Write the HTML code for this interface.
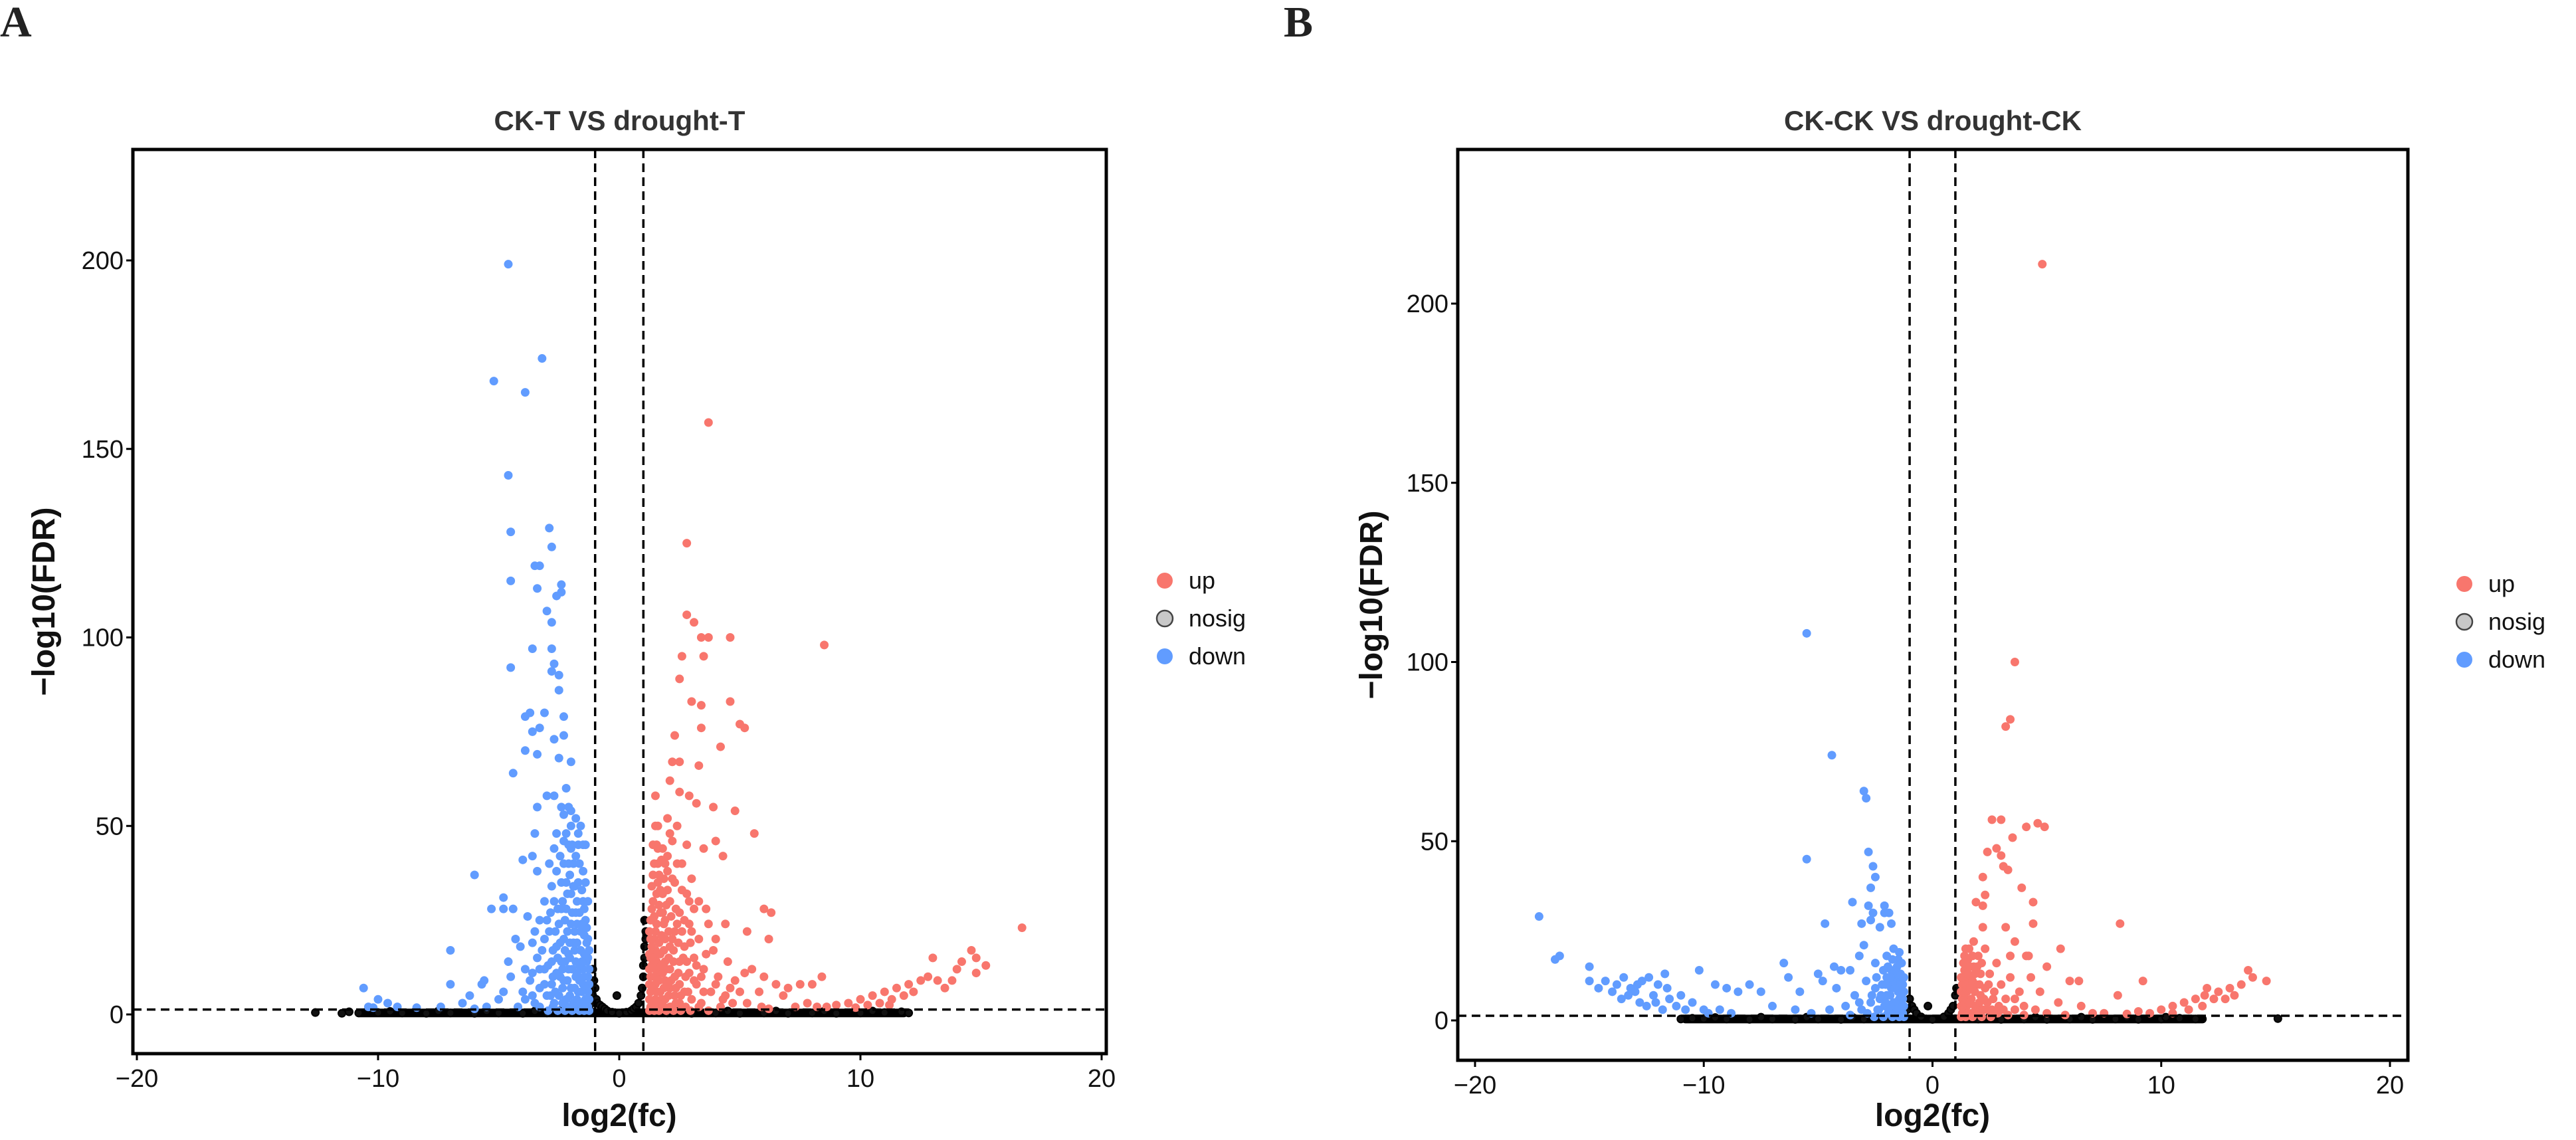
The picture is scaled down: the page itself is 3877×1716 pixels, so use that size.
<!DOCTYPE html>
<html><head><meta charset="utf-8">
<style>
html,body{margin:0;padding:0;background:#fff;}
svg{display:block;font-family:"Liberation Sans",Arial,sans-serif;}
</style></head>
<body>
<svg id="chart" width="3877" height="1716" viewBox="0 0 3877 1716" xmlns="http://www.w3.org/2000/svg">
<text x="0" y="55" font-family="Liberation Serif,serif" font-weight="bold" font-size="66" fill="#222">A</text>
<text x="1932" y="55" font-family="Liberation Serif,serif" font-weight="bold" font-size="66" fill="#222">B</text>
</svg>
<script>
const xTicks=[-20,-10,0,10,20];
const yTicks=[0,50,100,150,200];
const fdrThreshold=1.3;
const fcThreshold=1;

const aUp=[[3.7,157],[2.8,125],[2.8,106],[3.1,104],[3.4,100],[3.7,100],[4.6,100],[8.5,98],[2.6,95],[3.5,95],[2.5,89],[3.0,83],[4.6,83],[3.4,82],[5.0,77],[5.2,76],[3.4,76],[2.3,74],[4.2,71],[2.2,67],[2.5,67],[3.3,66],[2.1,62],[2.5,59],[2.9,58],[1.5,58],[3.2,56],[3.9,55],[4.8,54],[2.0,52],[5.6,48],[4.3,42],[3.5,44],[4.0,46],[6.0,28],[6.3,27],[5.3,22],[6.2,20],[4.4,24],[16.7,23],[14.6,17],[14.8,15],[13,15],[14.2,14],[14,12],[14.8,11],[15.2,13],[12.5,9],[13.2,9],[12.8,10],[12,8],[11.5,7],[11.8,5],[11,6],[11.3,4],[10.5,5],[10,4],[10.8,3],[9.5,3],[9,2.5],[8.6,2],[8.4,10],[8.0,8],[7.5,8],[7.0,7],[6.5,8],[6.0,10],[5.5,12],[5.2,11],[4.8,9],[5.8,6],[6.8,5],[7.8,3],
[1.3,2],[1.3,6],[1.3,10],[1.3,15],[1.3,20],[1.4,25],[1.4,30],[1.5,4],[1.5,8],[1.5,12],[1.5,17],[1.5,22],[1.6,35],[1.6,40],[1.7,2],[1.7,6],[1.7,11],[1.7,16],[1.7,27],[1.8,44],[1.8,32],[1.9,4],[1.9,9],[1.9,14],[1.9,20],[1.9,25],[2.0,38],[2.1,2],[2.1,7],[2.1,12],[2.1,18],[2.1,30],[2.2,46],[2.3,5],[2.3,10],[2.3,22],[2.3,35],[2.5,3],[2.5,8],[2.5,14],[2.5,27],[2.6,40],[2.7,6],[2.7,18],[2.8,32],[2.9,11],[2.9,24],[3.0,4],[3.1,15],[3.2,8],[3.3,20],[3.4,3],[3.5,12],[3.6,28],[3.8,6],[3.9,17],[4.1,10],[4.3,4],[4.5,14],[4.7,3],[5.0,6],[1.4,45],[1.6,50],[2.0,42],[2.4,50],[2.8,45],[3.0,36],[3.3,30],[3.7,24],[4.0,20],
[1.25,1],[1.25,4],[1.25,8],[1.25,12],[1.25,16],[1.25,22],[1.35,3],[1.35,7],[1.35,13],[1.35,18],[1.35,28],[1.35,34],[1.45,1],[1.45,10],[1.45,15],[1.45,20],[1.45,26],[1.45,40],[1.55,3],[1.55,6],[1.55,14],[1.55,24],[1.55,32],[1.55,45],[1.65,1],[1.65,9],[1.65,19],[1.65,29],[1.65,37],[1.75,4],[1.75,13],[1.75,21],[1.75,41],[1.85,2],[1.85,7],[1.85,17],[1.85,24],[1.85,36],[1.95,1],[1.95,12],[1.95,29],[2.05,5],[2.05,15],[2.05,22],[2.15,2],[2.15,9],[2.15,26],[2.25,1],[2.25,14],[2.25,17],[2.35,3],[2.35,7],[2.35,28],[2.45,11],[2.45,19],[2.55,1],[2.55,5],[2.65,15],[2.75,2],[2.75,10],[2.85,6],[2.95,1],[2.95,19],[3.1,9],[3.3,2],[3.5,6],[3.7,1],[4.2,2],[4.6,7],[5.3,3],[5.9,2],[6.2,1.5],[7.3,2],[8.2,2],
[1.3,25],[1.4,37],[1.5,50],[1.6,44],[1.7,33],[1.8,27],[1.9,40],[2.0,33],[2.1,48],[2.2,36],[2.4,40],[2.6,33],[2.7,25],[2.9,30],[3.1,28],[1.6,3],[1.8,11],[2.0,8],[2.2,20],[2.4,24],[2.6,22],[2.8,14],[3.0,22],[3.2,13],[3.4,10],[3.6,16],[4.0,8],[4.4,5],[9.8,1.8],[10.3,2.5],[11.2,2.5],[12.2,6],[13.5,7],[13.8,9]];
const aDown=[[-4.6,199],[-3.2,174],[-5.2,168],[-3.9,165],[-4.6,143],[-2.9,129],[-4.5,128],[-2.8,124],[-3.5,119],[-3.3,119],[-4.5,115],[-3.4,113],[-2.4,114],[-2.4,112],[-2.6,111],[-3.0,107],[-2.8,104],[-3.6,97],[-2.8,97],[-2.7,93],[-4.5,92],[-2.8,91],[-2.5,90],[-2.5,86],[-3.7,80],[-3.1,80],[-2.3,79],[-3.9,79],[-3.6,75],[-3.3,76],[-2.3,74],[-2.7,73],[-3.9,70],[-3.4,69],[-4.4,64],[-2.5,68],[-2.0,67],[-2.2,60],[-2.7,58],[-3.0,58],[-2.4,55],[-3.4,55],[-2.0,54],[-1.8,52],[-3.5,48],[-2.6,48],[-2.1,45],[-1.7,45],[-4.0,41],[-3.6,42],[-3.4,38],[-2.3,40],[-6.0,37],[-4.8,31],[-5.3,28],[-4.8,28],[-4.4,28],[-3.8,26],[-3.0,25],[-7.0,17],[-4.3,20],[-3.6,19],[-4.1,18],[-7.0,8],[-5.7,8],[-6.2,5],[-10.6,7],[-10,4],[-9.6,3],[-10.4,2],[-4.5,10],[-3.7,9],[-4.8,6],[-5.5,2],[-6,1.5],[-3.9,4],[-3.3,12],
[-1.3,2],[-1.3,6],[-1.3,10],[-1.3,15],[-1.3,20],[-1.4,4],[-1.4,25],[-1.5,8],[-1.5,12],[-1.5,30],[-1.6,2],[-1.6,17],[-1.6,22],[-1.7,6],[-1.7,35],[-1.8,10],[-1.8,14],[-1.8,27],[-1.9,3],[-1.9,19],[-1.9,40],[-2.0,7],[-2.0,24],[-2.0,32],[-2.1,12],[-2.1,16],[-2.2,4],[-2.2,28],[-2.2,48],[-2.3,9],[-2.3,20],[-2.4,14],[-2.4,35],[-2.5,5],[-2.5,24],[-2.6,11],[-2.6,18],[-2.7,3],[-2.7,30],[-2.8,8],[-2.8,14],[-2.9,22],[-3.0,5],[-3.1,12],[-3.2,17],[-3.3,7],[-3.5,3],[-3.6,11],[-4.0,6],[-1.4,45],[-1.6,50],[-2.0,44],[-1.5,38],
[-1.25,1],[-1.25,4],[-1.25,8],[-1.25,12],[-1.25,17],[-1.35,3],[-1.35,7],[-1.35,14],[-1.35,19],[-1.35,23],[-1.45,1],[-1.45,10],[-1.45,16],[-1.45,21],[-1.45,28],[-1.55,3],[-1.55,6],[-1.55,14],[-1.55,24],[-1.55,33],[-1.65,1],[-1.65,9],[-1.65,13],[-1.65,27],[-1.65,40],[-1.75,4],[-1.75,11],[-1.75,19],[-1.75,24],[-1.75,30],[-1.85,2],[-1.85,7],[-1.85,17],[-1.85,22],[-1.85,34],[-1.95,1],[-1.95,12],[-1.95,27],[-1.95,45],[-2.05,5],[-2.05,15],[-2.05,19],[-2.05,37],[-2.15,2],[-2.15,9],[-2.15,22],[-2.15,32],[-2.25,1],[-2.25,14],[-2.25,17],[-2.25,25],[-2.35,3],[-2.35,7],[-2.35,12],[-2.35,30],[-2.45,10],[-2.45,19],[-2.45,42],[-2.55,1],[-2.55,15],[-2.55,28],[-2.65,6],[-2.65,22],[-2.75,2],[-2.75,10],[-2.75,17],[-2.85,5],[-2.85,27],[-2.95,1],[-2.95,13],[-3.1,8],[-3.1,20],[-3.3,2],[-3.4,15],[-3.6,5],[-3.9,12],[-4.2,2],[-4.6,14],[-5.0,4],[-5.6,9],[-6.5,3],[-7.4,2],[-8.4,1.8],[-9.2,2],[-10.2,1.8],
[-1.3,30],[-1.4,35],[-1.5,45],[-1.7,48],[-1.8,42],[-1.9,34],[-2.0,50],[-2.1,40],[-2.2,35],[-2.3,46],[-2.4,28],[-2.6,38],[-2.7,44],[-2.8,34],[-2.9,40],[-3.1,30],[-3.3,25],[-3.5,22],[-2.3,53],[-2.1,55]];
const aNosig=[[-12.6,0.5],[-11.2,0.7],[-10.8,0.4],[-10,0.5],[-9,0.4],[-8,0.3],[-7,0.4],[-6,0.3],[-5,0.4],[-4,0.3],[-3,0.4],[-2,0.5],[-1.5,0.6],[-1.2,1],[-1.15,3],[-1.1,5],[-1.05,9],[-1.1,12],[-1.0,7],[-0.95,4],[-0.9,3],[-0.8,2.5],[-0.7,2],[-0.6,1.5],[-0.5,1],[-0.3,0.6],[0,0.3],[0.3,0.6],[0.5,1],[0.6,1.5],[0.7,2],[0.8,3],[0.9,5],[0.95,7],[1.0,10],[1.0,13],[1.05,15],[1.05,18],[1.1,20],[1.05,25],[1.1,22],[1.5,0.5],[2,0.4],[3,0.3],[4,0.4],[5,0.3],[6,0.4],[7,0.3],[8,0.4],[9,0.3],[10,0.4],[11,0.5],[11.7,0.7],[12,0.4],[-0.1,5],[-11.5,0.3],[-9.5,0.8],[-7.5,0.9],[-5.5,0.9],[-3.5,0.9],[-2.5,1.0],[2.5,1.0],[4.5,0.9],[6.5,0.9],[8.5,0.9],[10.5,0.9]];

const bUp=[[4.8,211],[3.6,100],[3.4,84],[3.2,82],[2.6,56],[3.0,56],[4.6,55],[4.9,54],[4.1,54],[3.5,51],[2.8,48],[2.4,47],[3.0,46],[3.1,43],[3.3,42],[2.2,40],[3.9,37],[2.3,35],[1.9,33],[2.2,32],[4.4,33],[8.2,27],[3.2,26],[4.4,27],[2.2,26],[5.6,20],[3.6,22],[4.1,18],[4.2,18],[3.4,18],[5.0,15],[6.0,11],[6.4,11],[8.1,7],[9.2,11],[13.8,14],[14,12],[14.6,11],[13.5,10],[13,9],[12.5,8],[12,9],[12.3,6],[11.5,6],[11.8,4],[11,5],[10.5,4],[10,3],[9.5,2],[6.5,4],[7,2],[5.5,5],[4.7,8],
[1.3,2],[1.3,6],[1.3,10],[1.4,14],[1.4,18],[1.5,4],[1.5,8],[1.6,12],[1.6,20],[1.7,2],[1.7,6],[1.8,15],[1.8,22],[1.9,4],[1.9,10],[2.0,18],[2.1,7],[2.1,13],[2.2,3],[2.3,9],[2.3,20],[2.4,5],[2.5,13],[2.6,3],[2.7,8],[2.8,16],[2.9,4],[3.0,10],[3.2,6],[3.4,12],[3.6,3],[3.8,8],[4.0,4],[4.3,12],
[1.25,1],[1.25,4],[1.25,8],[1.25,12],[1.35,3],[1.35,7],[1.35,11],[1.35,16],[1.45,1],[1.45,6],[1.45,10],[1.45,20],[1.55,2],[1.55,13],[1.55,17],[1.65,5],[1.65,9],[1.65,15],[1.75,1],[1.75,11],[1.75,18],[1.85,4],[1.85,8],[1.85,13],[1.95,2],[1.95,15],[2.05,5],[2.05,10],[2.15,1],[2.15,16],[2.25,6],[2.35,3],[2.45,10],[2.55,1],[2.65,6],[2.85,2],[3.1,3],[3.3,1.5],[3.6,6],[4.0,1.5],[4.5,3],[5.0,2],[5.8,1.5],[7.5,2],[8.5,1.8],[9.0,2.5],[10.5,2],[11.2,3],[12.8,6],[13.2,7],[11.9,7]];
const bDown=[[-5.5,108],[-4.4,74],[-3.0,64],[-2.9,62],[-5.5,45],[-2.8,47],[-2.6,43],[-2.5,40],[-2.7,37],[-3.5,33],[-2.1,32],[-2.8,32],[-2.6,30],[-2.1,30],[-1.9,30],[-4.7,27],[-3.1,27],[-2.7,28],[-2.3,26],[-1.8,27],[-17.2,29],[-16.3,18],[-16.5,17],[-15,15],[-15,11],[-14.3,11],[-13.8,10],[-13.5,12],[-13.2,9],[-13,8],[-12.7,11],[-12.4,12],[-12.2,7],[-12,10],[-11.7,13],[-11.5,6],[-11.2,4],[-11,7],[-10.5,5],[-10.2,14],[-10,3],[-9.5,10],[-9,9],[-8.5,8],[-8,10],[-7.5,8],[-6.5,16],[-6.3,12],[-5.8,8],[-5,13],[-4.8,11],[-4.3,15],[-4,14],[-3.6,14],[-3.2,18],[-3,21],[-2.5,16],[-2,18],[-14,8],[-13.6,6],[-12.8,5],[-12.5,4],[-11.8,3],[-9.8,2],[-8.8,2],[-7,4],[-6,3],[-5.3,2],
[-1.3,2],[-1.3,6],[-1.3,10],[-1.4,4],[-1.4,13],[-1.5,8],[-1.5,17],[-1.6,2],[-1.6,11],[-1.7,5],[-1.7,20],[-1.8,9],[-1.8,14],[-1.9,3],[-2.0,7],[-2.0,12],[-2.1,4],[-2.2,10],[-2.3,6],[-2.4,3],[-2.5,9],[-2.7,5],[-2.9,11],[-3.1,3],[-3.4,7],[-3.8,4],[-4.2,9],
[-1.25,1],[-1.25,4],[-1.25,8],[-1.25,12],[-1.35,3],[-1.35,7],[-1.35,11],[-1.35,16],[-1.45,1],[-1.45,6],[-1.45,10],[-1.45,19],[-1.55,3],[-1.55,13],[-1.55,15],[-1.65,5],[-1.65,9],[-1.65,14],[-1.75,1],[-1.75,11],[-1.75,17],[-1.85,4],[-1.85,7],[-1.85,12],[-1.95,2],[-1.95,15],[-2.05,5],[-2.05,10],[-2.15,1],[-2.15,14],[-2.25,7],[-2.35,3],[-2.45,12],[-2.55,1],[-2.65,7],[-2.85,2],[-3.2,5],[-3.6,1.5],[-4.5,3],[-13.3,7],[-12.9,10],[-12.1,5],[-11.6,9],[-14.6,9],[-10.8,3],[-9.3,3]];
const bNosig=[[-11,0.4],[-10.5,0.6],[-10,0.5],[-9,0.4],[-8,0.3],[-7,0.4],[-6,0.3],[-5,0.4],[-4,0.3],[-3,0.4],[-2,0.5],[-1.5,0.6],[-1.2,1],[-1.1,3],[-1.0,6],[-0.9,4],[-0.8,3],[-0.7,2],[-0.5,1],[0,0.3],[-0.2,4],[0.5,1],[0.7,2],[0.8,3],[0.9,4],[1.0,7],[1.05,9],[1.5,0.5],[2,0.4],[3,0.3],[4,0.4],[5,0.3],[6,0.4],[7,0.3],[8,0.4],[9,0.3],[10,0.4],[10.8,0.6],[11.5,0.4],[15.1,0.5],[-9.5,0.8],[-7.5,0.9],[-5.5,0.9],[-3.5,0.9],[-2.5,1.0],[2.5,1.0],[4.5,0.9],[6.5,0.9],[8.5,0.9],[10.2,0.9]];

const NS='http://www.w3.org/2000/svg';
const svg=document.getElementById('chart');
function mk(tag,attrs,parent){const e=document.createElementNS(NS,tag);for(const k in attrs)e.setAttribute(k,attrs[k]);(parent||svg).appendChild(e);return e;}

function panel(cfg){
  const g=mk('g',{});
  
  
  const sx=v=>cfg.x0+(v-(-20))*(cfg.x20-cfg.x0)/40;
  const sy=v=>cfg.y0+v*(cfg.y200-cfg.y0)/200;
  const clip='clip-'+cfg.name;
  const cp=mk('clipPath',{id:clip},g);mk('rect',{x:cfg.L,y:cfg.T,width:cfg.R-cfg.L,height:cfg.B-cfg.T},cp);
  const pts=mk('g',{'clip-path':'url(#'+clip+')'},g);
  function draw(arr,fill,stroke,r,nm){
    arr.forEach(p=>{const c=mk('circle',{cx:sx(p[0]),cy:sy(p[1]),r:r,fill:fill,stroke:stroke,'stroke-width':stroke==='none'?0:2},pts);
      
      });
  }
  const band=mk('line',{x1:sx(-10.8),x2:sx(11.8),y1:sy(0.4),y2:sy(0.4),stroke:'#000','stroke-width':13,'stroke-linecap':'round'},pts);
  
  
  draw(cfg.nosig,'#111','#000',5.5,'nosig-point');
  draw(cfg.down,'#619CFF','none',6.5,'down-point');
  draw(cfg.up,'#F8766D','none',6.5,'up-point');
  const dash={stroke:'#000','stroke-width':3.5,'stroke-dasharray':'13 8',fill:'none'};
  const h=mk('line',Object.assign({x1:cfg.L,x2:cfg.R,y1:sy(fdrThreshold),y2:sy(fdrThreshold)},dash),g);
  
  [-fcThreshold,fcThreshold].forEach(v=>{const l=mk('line',Object.assign({x1:sx(v),x2:sx(v),y1:cfg.T,y2:cfg.B},dash),g);
    });
  const box=mk('rect',{x:cfg.L,y:cfg.T,width:cfg.R-cfg.L,height:cfg.B-cfg.T,fill:'none',stroke:'#000','stroke-width':5},g);
  
  xTicks.forEach(v=>{mk('line',{x1:sx(v),x2:sx(v),y1:cfg.B,y2:cfg.B+10,stroke:'#000','stroke-width':3},g);
    const t=mk('text',{x:sx(v),y:cfg.B+50,'text-anchor':'middle','font-size':38,fill:'#111'},g);t.textContent=v<0?'\u2212'+(-v):v;
    });
  yTicks.forEach(v=>{mk('line',{x1:cfg.L-10,x2:cfg.L,y1:sy(v),y2:sy(v),stroke:'#000','stroke-width':3},g);
    const t=mk('text',{x:cfg.L-14,y:sy(v)+13,'text-anchor':'end','font-size':38,fill:'#111'},g);t.textContent=v;
    });
  const tt=mk('text',{x:(cfg.L+cfg.R)/2,y:196,'text-anchor':'middle','font-size':42,'font-weight':'bold',fill:'#333'},g);tt.textContent=cfg.title;
  
  const xt=mk('text',{x:sx(0),y:1695,'text-anchor':'middle','font-size':48,'font-weight':'bold',fill:'#111'},g);xt.textContent='log2(fc)';
  
  const yt=mk('text',{x:0,y:0,'text-anchor':'middle','font-size':48,'font-weight':'bold',fill:'#111',transform:'translate('+cfg.yTitleX+','+(cfg.T+cfg.B)/2+') rotate(-90)'},g);yt.textContent='\u2212log10(FDR)';
  
  const leg=[['up','#F8766D','none'],['nosig','#c8c8c8','#444'],['down','#619CFF','none']];
  leg.forEach((l,i)=>{const yy=cfg.legY+i*57;
    const c=mk('circle',{cx:cfg.legX,cy:yy,r:12,fill:l[1],stroke:l[2],'stroke-width':l[2]==='none'?0:2.5},g);
    
    const t=mk('text',{x:cfg.legX+36,y:yy+12,'font-size':36,fill:'#111'},g);t.textContent=l[0];
    });
}
panel({name:'panel-a',title:'CK-T VS drought-T',L:200,R:1665,T:225,B:1586,x0:206,x20:1658,y0:1527,y200:392,yTitleX:82,legX:1753,legY:874,up:aUp,down:aDown,nosig:aNosig});
panel({name:'panel-b',title:'CK-CK VS drought-CK',L:2194,R:3624,T:225,B:1596,x0:2220,x20:3597,y0:1536,y200:457,yTitleX:2080,legX:3709,legY:879,up:bUp,down:bDown,nosig:bNosig});
</script>
</body></html>
